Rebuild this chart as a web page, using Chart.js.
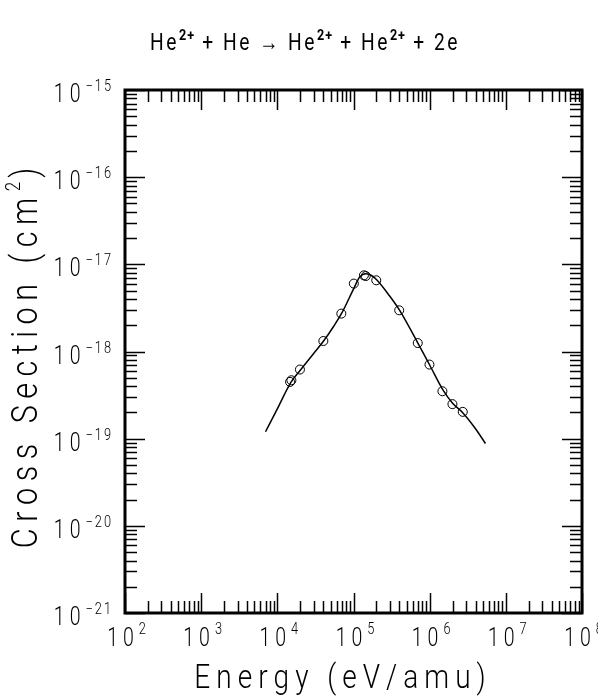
<!DOCTYPE html>
<html>
<head>
<meta charset="utf-8">
<script src="https://cdn.jsdelivr.net/npm/chart.js@4.4.1/dist/chart.umd.min.js"></script>
<style>
  html, body { margin: 0; padding: 0; background: #fff; }
  #wrap { width: 598px; height: 696px; }
</style>
</head>
<body>
<div id="wrap"><canvas id="chart" width="598" height="696"></canvas></div>
<script>
// measured cross sections (circles)
const pointEnergy = [1.47e4, 1.53e4, 1.98e4, 4.02e4, 6.92e4, 1.01e5, 1.37e5, 1.45e5, 1.99e5, 3.98e5, 6.98e5, 9.94e5, 1.47e6, 1.99e6, 2.72e6];
const pointSigma = [4.48e-19, 4.68e-19, 6.21e-19, 1.32e-18, 2.72e-18, 6.01e-18, 7.48e-18, 7.34e-18, 6.56e-18, 2.97e-18, 1.25e-18, 7.08e-19, 3.50e-19, 2.49e-19, 2.03e-19];

// recommended fit (solid line)
const fitEnergy = [7.0e3, 1.0e4, 1.5e4, 2.0e4, 3.0e4, 4.0e4, 5.5e4, 7.0e4, 1.0e5, 1.2e5, 1.45e5, 1.7e5, 2.0e5, 3.0e5, 4.0e5, 7.0e5, 1.0e6, 1.5e6, 2.0e6, 2.7e6, 4.0e6, 5.4e6];
const fitSigma = [1.2e-19, 2.2e-19, 4.4e-19, 6.1e-19, 9.5e-19, 1.3e-18, 1.95e-18, 2.75e-18, 5.2e-18, 7.1e-18, 7.8e-18, 7.5e-18, 6.7e-18, 4.3e-18, 3.0e-18, 1.25e-18, 7.0e-19, 3.6e-19, 2.55e-19, 2.0e-19, 1.3e-19, 8.8e-20];

// decade exponents used for tick labels
const xExponents = [2, 3, 4, 5, 6, 7, 8];
const yExponents = [-21, -20, -19, -18, -17, -16, -15];

const FONT = 'Roboto';

// draw a run of text pieces (with superscripts) char by char, condensed + spaced
function runWidth(ctx, parts) {
  let w = 0;
  parts.forEach(p => {
    ctx.font = (p.w || 300) + ' ' + p.size + 'px ' + FONT;
    for (const ch of p.t) w += ctx.measureText(ch).width * (p.sx || 1) + (p.sp || 0);
  });
  return w;
}
function drawRun(ctx, parts, x, y, align) {
  const total = runWidth(ctx, parts);
  let cx = align === 'center' ? x - total / 2 : align === 'right' ? x - total : x;
  parts.forEach(p => {
    ctx.font = (p.w || 300) + ' ' + p.size + 'px ' + FONT;
    for (const ch of p.t) {
      ctx.save();
      ctx.translate(cx, y + (p.dy || 0));
      ctx.scale(p.sx || 1, 1);
      ctx.fillText(ch, 0, 0);
      ctx.restore();
      cx += ctx.measureText(ch).width * (p.sx || 1) + (p.sp || 0);
    }
  });
}

const decor = {
  id: 'decor',
  afterDraw(chart) {
    const ctx = chart.ctx;
    const a = chart.chartArea;
    const xs = chart.scales.x, ys = chart.scales.y;
    ctx.save();
    ctx.strokeStyle = '#000';
    ctx.fillStyle = '#000';
    ctx.textAlign = 'left';
    ctx.textBaseline = 'alphabetic';

    // inward ticks on all four sides
    function tick(x1, y1, x2, y2, w) {
      ctx.lineWidth = w;
      ctx.beginPath();
      ctx.moveTo(x1, y1);
      ctx.lineTo(x2, y2);
      ctx.stroke();
    }
    xExponents.forEach(e => {
      for (let k = 1; k <= 9; k++) {
        const v = k * Math.pow(10, e);
        if (v > xs.max * 1.0001) break;
        const px = Math.round(xs.getPixelForValue(v)) + 0.5;
        const len = k === 1 ? 20 : 12;
        tick(px, a.bottom, px, a.bottom - len, 1.5);
        tick(px, a.top, px, a.top + len, 1.5);
      }
    });
    yExponents.forEach(e => {
      for (let k = 1; k <= 9; k++) {
        const v = k * Math.pow(10, e);
        if (v > ys.max * 1.0001) break;
        const py = Math.round(ys.getPixelForValue(v)) + 0.5;
        const len = k === 1 ? 20 : 12;
        tick(a.left, py, a.left + len, py, 1.5);
        tick(a.right, py, a.right - len, py, 1.5);
      }
    });

    // frame
    ctx.lineWidth = 3;
    ctx.strokeRect(a.left, a.top, a.right - a.left, a.bottom - a.top);

    // x tick labels
    xExponents.forEach(e => {
      const px = xs.getPixelForValue(Math.pow(10, e));
      drawRun(ctx, [
        { t: '10', size: 26, sx: 0.75, sp: 5 },
        { t: String(e), size: 16, sx: 0.8, sp: 1, dy: -12 }
      ], px + 2, 646, 'center');
    });

    // y tick labels
    yExponents.forEach(e => {
      const py = ys.getPixelForValue(Math.pow(10, e));
      drawRun(ctx, [
        { t: '10', size: 26, sx: 0.75, sp: 5 },
        { t: String(e).replace('-', '\u2212'), size: 16, sx: 0.8, sp: 2, dy: -11 }
      ], 113, py + 12, 'right');
    });

    // title
    const b = { size: 24, sx: 0.8, sp: 2.5, w: 400 };
    const s = { size: 14, sx: 0.9, sp: 1, w: 700, dy: -10 };
    drawRun(ctx, [
      Object.assign({ t: 'He' }, b), Object.assign({ t: '2+' }, s),
      Object.assign({ t: ' + He \u2192 He' }, b), Object.assign({ t: '2+' }, s),
      Object.assign({ t: ' + He' }, b), Object.assign({ t: '2+' }, s),
      Object.assign({ t: ' + 2e' }, b)
    ], 305, 50, 'center');

    // x axis title
    drawRun(ctx, [{ t: 'Energy (eV/amu)', size: 33, sx: 0.85, sp: 6 }], 343, 688, 'center');

    // y axis title
    ctx.save();
    ctx.translate(37, 355);
    ctx.rotate(-Math.PI / 2);
    drawRun(ctx, [
      { t: 'Cross Section (cm', size: 36, sx: 0.85, sp: 6.5 },
      { t: '2', size: 20, sx: 0.85, sp: 4, dy: -17 },
      { t: ')', size: 36, sx: 0.85, sp: 6 }
    ], 0, 0, 'center');
    ctx.restore();

    ctx.restore();
  }
};

new Chart(document.getElementById('chart'), {
  type: 'scatter',
  data: {
    datasets: [
      {
        label: 'fit',
        data: fitEnergy.map((x, i) => ({ x: x, y: fitSigma[i] })),
        showLine: true,
        borderColor: '#000',
        borderWidth: 1.5,
        pointRadius: 0,
        cubicInterpolationMode: 'monotone',
        fill: false
      },
      {
        label: 'data',
        data: pointEnergy.map((x, i) => ({ x: x, y: pointSigma[i] })),
        showLine: false,
        pointStyle: 'circle',
        pointRadius: 4.5,
        borderColor: '#000',
        borderWidth: 1,
        backgroundColor: 'rgba(0,0,0,0)'
      }
    ]
  },
  options: {
    responsive: false,
    animation: false,
    devicePixelRatio: 1,
    layout: { padding: { left: 125, top: 90, right: 16, bottom: 83 } },
    plugins: { legend: { display: false }, tooltip: { enabled: false } },
    scales: {
      x: { type: 'logarithmic', min: 1e2, max: 1e8, display: false },
      y: { type: 'logarithmic', min: 1e-21, max: 1e-15, display: false }
    }
  },
  plugins: [decor]
});
</script>
</body>
</html>
